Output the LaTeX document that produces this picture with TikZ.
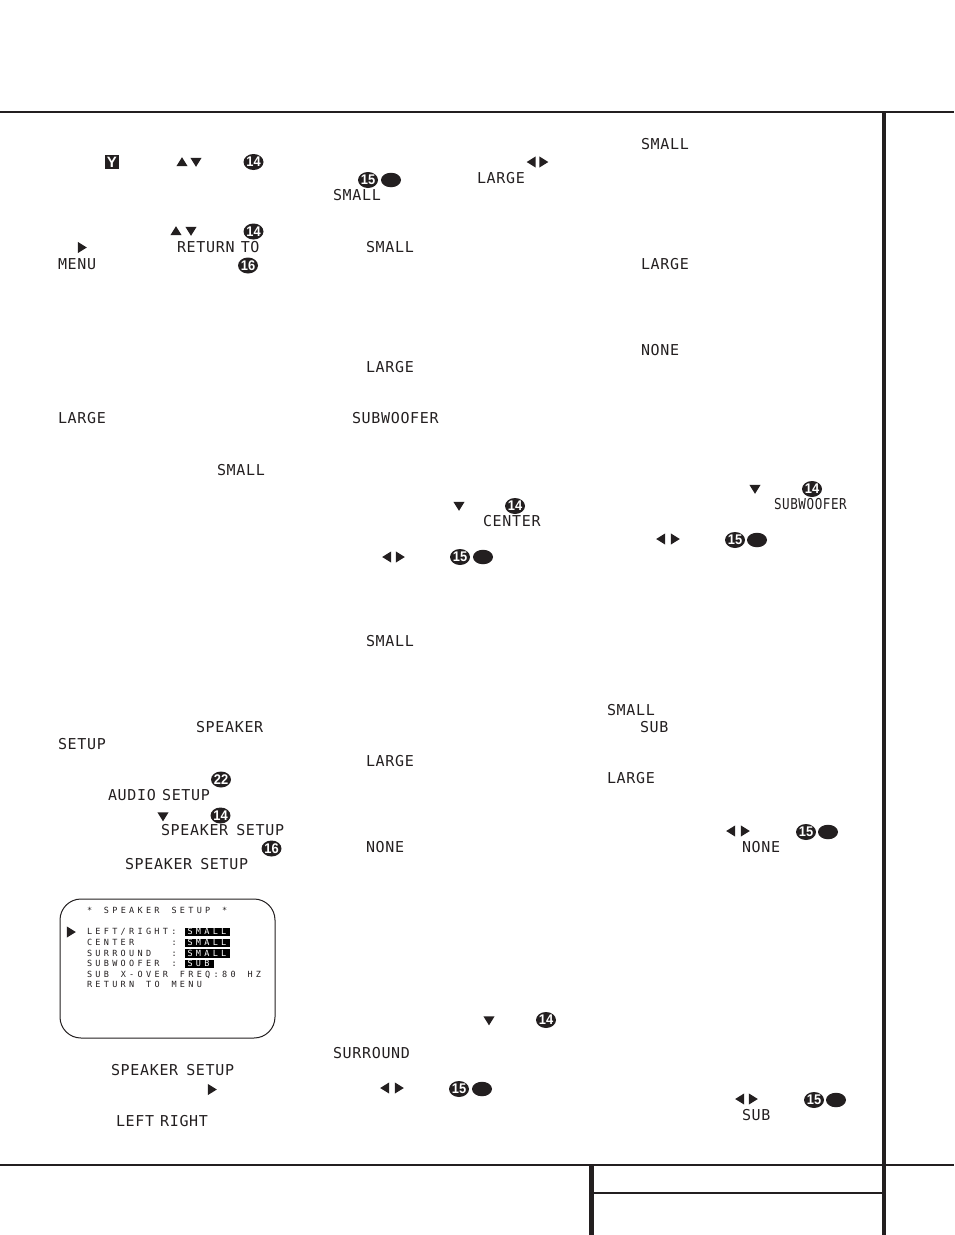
\documentclass[tikz,border=0pt]{standalone}
\usepackage{fontspec}
\usetikzlibrary{shapes.geometric}
\setmainfont{Liberation Sans}
\newfontfamily\lcdfont[LetterSpace=4.5]{DejaVu Sans Mono}
\newfontfamily\osdfont[LetterSpace=39]{DejaVu Sans Mono}
\definecolor{ink}{HTML}{231F20}
\newcounter{nodeid}
\tikzset{
  lcdtext/.style={anchor=west,inner sep=0pt,outer sep=0pt,text=ink,font=\lcdfont\fontsize{15}{15}\selectfont},
  osdtext/.style={anchor=west,inner sep=0pt,outer sep=0pt,text=ink,text height=6.2pt,text depth=0pt,font=\osdfont\fontsize{8.5}{9}\selectfont},
  osdinv/.style={osdtext,text=white},
  badge/.style={ellipse,fill=ink,text=white,inner sep=0pt,minimum width=20pt,minimum height=16pt,font=\bfseries\fontsize{14}{14}\selectfont},
  oval/.style={ellipse,fill=ink,inner sep=0pt,minimum width=20pt,minimum height=14.5pt},
  rule/.style={draw=ink,line width=2pt},
  thickrule/.style={draw=ink,line width=4.4pt},
  screen/.style={draw=ink,line width=1pt,rounded corners=21pt,fill=white},
  hilite/.style={fill=black,draw=none},
}
\newcommand{\lcd}[3]{\stepcounter{nodeid}\node[lcdtext] (t\arabic{nodeid}) at (#1,#2-1) {#3};}
\newcommand{\wsp}{\kern6.2pt}
\newcommand{\num}[3]{\stepcounter{nodeid}\node[badge] (b\arabic{nodeid}) at (#1,#2) {\hbox to 0pt{\hss\scalebox{0.92}[1]{#3}\hss}};}
\newcommand{\ovl}[2]{\stepcounter{nodeid}\node[oval] (o\arabic{nodeid}) at (#1,#2) {};}
\newcommand{\tri}[3]{\fill[ink,shift={(#1,#2)},rotate=#3] (-4.2,-5.6) -- (4.8,0) -- (-4.2,5.6) -- cycle;}
\newcommand{\trup}[2]{\tri{#1}{#2}{90}}
\newcommand{\trdn}[2]{\tri{#1}{#2}{-90}}
\newcommand{\trl}[2]{\tri{#1}{#2}{180}}
\newcommand{\trr}[2]{\tri{#1}{#2}{0}}
\newcommand{\osd}[3]{\stepcounter{nodeid}\node[osdtext] (s\arabic{nodeid}) at (87+8.45*#1,#2) {#3};}
\begin{document}
\begin{tikzpicture}[x=1pt,y=-1pt]
\useasboundingbox (0,0) rectangle (954,1235);
% rules
\coordinate (tl) at (0,112); \coordinate (tr) at (954,112);
\coordinate (bl) at (0,1165); \coordinate (br) at (954,1165);
\draw[rule] (tl) -- (tr);
\draw[rule] (bl) -- (br);
\draw[thickrule] (884,112) -- (884,1235);
\draw[thickrule] (591.5,1165) -- (591.5,1235);
\draw[rule] (591.5,1193) -- (884,1193);
% column 1
\fill[ink] (105,155) rectangle (119,169);
\node[text=white,font=\bfseries\fontsize{15}{15}\selectfont,inner sep=0pt] (ybox) at (112,162) {Y};
\trup{182}{162}\trdn{196}{162}\num{253.5}{162}{14}
\trup{176}{231}\trdn{191}{231}\num{253.5}{231.5}{14}
\trr{82}{247.5}\lcd{177}{248}{RETURN\wsp TO}
\lcd{58}{265}{MENU}\num{248}{265.5}{16}
\lcd{58}{419}{LARGE}
\lcd{217}{471}{SMALL}
\lcd{196}{728}{SPEAKER}
\lcd{58}{745}{SETUP}
\num{221}{779.5}{22}
\lcd{108}{796}{AUDIO\wsp SETUP}
\trdn{163}{816.5}\num{220.5}{815.5}{14}
\lcd{161}{831}{SPEAKER\kern8pt SETUP}
\num{271.5}{848.5}{16}
\lcd{125}{865}{SPEAKER\kern8pt SETUP}
% screen
\node[screen,minimum width=215pt,minimum height=139pt,inner sep=0pt] (scr) at (167.5,968.5) {};
\trr{71}{932}
\fill[hilite] (185,927.5) rectangle (230,936);
\fill[hilite] (185,938.5) rectangle (230,947);
\fill[hilite] (185,949) rectangle (230,958);
\fill[hilite] (185,959.5) rectangle (214,968);
\osd{0}{910.5}{*}\osd{2}{910.5}{SPEAKER}\osd{10}{910.5}{SETUP}\osd{16}{910.5}{*}
\osd{0}{931.5}{LEFT/RIGHT:}
\osd{0}{942.5}{CENTER}\osd{10}{942.5}{:}
\osd{0}{953}{SURROUND}\osd{10}{953}{:}
\osd{0}{963.5}{SUBWOOFER}\osd{10}{963.5}{:}
\osd{0}{974}{SUB}\osd{4}{974}{X-OVER}\osd{11}{974}{FREQ:80}\osd{19}{974}{HZ}
\osd{0}{984.5}{RETURN}\osd{7}{984.5}{TO}\osd{10}{984.5}{MENU}
\node[osdinv] (s1a) at (187.5,931.5) {SMALL};
\node[osdinv] (s2a) at (187.5,942.5) {SMALL};
\node[osdinv] (s3a) at (187.5,953.5) {SMALL};
\node[osdinv] (s4a) at (187.5,963.5) {SUB};
\lcd{111}{1071}{SPEAKER\kern8pt SETUP}
\trr{212}{1089.5}
\lcd{116}{1122}{LEFT\kern6pt RIGHT}
% column 2
\trl{531.5}{162}\trr{543.5}{162}
\num{368}{180}{15}\ovl{391}{180}
\lcd{477}{179}{LARGE}
\lcd{333}{196}{SMALL}
\lcd{366}{248}{SMALL}
\lcd{366}{368}{LARGE}
\lcd{352}{419}{SUBWOOFER}
\trdn{459}{506}\num{515}{506}{14}
\lcd{483}{522}{CENTER}
\trl{387}{557}\trr{400}{557}
\num{460}{557}{15}\ovl{483}{557}
\lcd{366}{642}{SMALL}
\lcd{366}{762}{LARGE}
\lcd{366}{848}{NONE}
\trdn{489}{1020.5}\num{546}{1020}{14}
\lcd{333}{1054}{SURROUND}
\trl{385}{1088}\trr{399}{1088}
\num{459}{1089}{15}\ovl{482}{1089}
% column 3
\lcd{641}{145}{SMALL}
\lcd{641}{265}{LARGE}
\lcd{641}{351}{NONE}
\trdn{755}{489}\num{812}{489}{14}
\lcd{774}{505}{\scalebox{0.84}[1]{SUBWOOFER}}
\trl{661}{539}\trr{675}{539}
\num{735}{540}{15}\ovl{757}{540}
\lcd{607}{711}{SMALL}
\lcd{640}{728}{SUB}
\lcd{607}{779}{LARGE}
\trl{731}{831}\trr{745}{831}
\num{806}{832}{15}\ovl{828}{832}
\lcd{742}{848}{NONE}
\trl{740}{1099}\trr{753}{1099}
\num{814}{1100}{15}\ovl{836}{1100}
\lcd{742}{1116}{SUB}
\end{tikzpicture}
\end{document}
